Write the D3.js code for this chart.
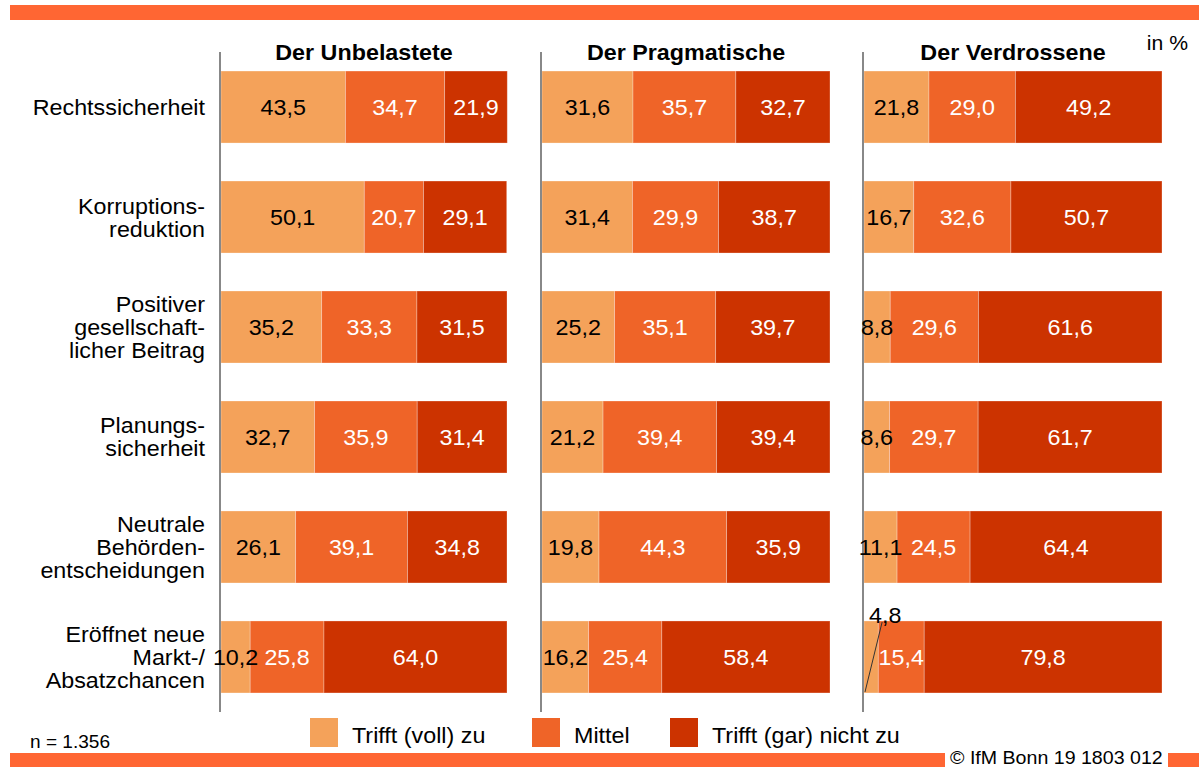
<!DOCTYPE html>
<html>
<head>
<meta charset="utf-8">
<script src="https://cdnjs.cloudflare.com/ajax/libs/d3/7.8.5/d3.min.js"></script>
<style>
	body{
	    margin:0;
	    background-color: white;
	}
	text{
	    font-family: "Liberation Sans", Arial, sans-serif;
	}
</style>
</head>
<body>
<svg id="chart" width="1199" height="767"></svg>
<script>
	// categories (one entry per row, split into lines as in the original)
	var categories = [
		["Rechtssicherheit"],
		["Korruptions-", "reduktion"],
		["Positiver", "gesellschaft-", "licher Beitrag"],
		["Planungs-", "sicherheit"],
		["Neutrale", "Behörden-", "entscheidungen"],
		["Eröffnet neue", "Markt-/", "Absatzchancen"]
	];
	var series = ["Trifft (voll) zu", "Mittel", "Trifft (gar) nicht zu"];
	var panelTitles = ["Der Unbelastete", "Der Pragmatische", "Der Verdrossene"];

	// values in %, per row: [voll zu, mittel, nicht zu]
	var unbelastete = [
		[43.5, 34.7, 21.9],
		[50.1, 20.7, 29.1],
		[35.2, 33.3, 31.5],
		[32.7, 35.9, 31.4],
		[26.1, 39.1, 34.8],
		[10.2, 25.8, 64.0]
	];
	var pragmatische = [
		[31.6, 35.7, 32.7],
		[31.4, 29.9, 38.7],
		[25.2, 35.1, 39.7],
		[21.2, 39.4, 39.4],
		[19.8, 44.3, 35.9],
		[16.2, 25.4, 58.4]
	];
	var verdrossene = [
		[21.8, 29.0, 49.2],
		[16.7, 32.6, 50.7],
		[8.8, 29.6, 61.6],
		[8.6, 29.7, 61.7],
		[11.1, 24.5, 64.4],
		[4.8, 15.4, 79.8]
	];
	var panelData = [unbelastete, pragmatische, verdrossene];

	var colors = ["#F4A25A", "#EF6428", "#CC3300"];
	var labelColors = ["#000", "#fff", "#fff"];

	// layout
	var panelX = [221, 542, 864];
	var panelW = [286, 288, 298];
	var TOP = 52, BOTTOM = 712;
	var STRETCH = 1.06; // the original text is a bit wider than Arial

	var locale = d3.formatLocale({decimal: ",", thousands: ".", grouping: [3], currency: ["", ""]});
	var fmt = locale.format(".1f");

	var svg = d3.select("#chart");

	// text helper: places a text at x,y, slightly widened
	function addText(parent, x, y, str, size, anchor){
		return parent.append("text")
			.attr("transform", "translate(" + x + "," + y + ") scale(" + STRETCH + ",1)")
			.attr("text-anchor", anchor || "start")
			.style("font-size", size + "px")
			.text(str);
	}

	// top and bottom bands
	svg.append("rect").attr("x", 10).attr("y", 5).attr("width", 1189).attr("height", 15).attr("fill", "#FF6633");
	svg.append("rect").attr("x", 10).attr("y", 753).attr("width", 935).attr("height", 14).attr("fill", "#FF6633");
	svg.append("rect").attr("x", 1168).attr("y", 753).attr("width", 31).attr("height", 14).attr("fill", "#FF6633");
	addText(svg, 950, 764, "© IfM Bonn 19 1803 012", 18.5);

	var yScale = d3.scaleBand()
		.domain(d3.range(categories.length))
		.range([71 - 19, 693 + 19])
		.paddingInner(38 / 110)
		.paddingOuter(0.173);

	// row labels
	var rowLabels = svg.append("g").attr("class", "row-labels");
	categories.forEach(function(lines, i){
		var cy = yScale(i) + yScale.bandwidth() / 2;
		lines.forEach(function(line, j){
			addText(rowLabels, 205, cy - (lines.length - 1) * 23 / 2 + 8 + j * 23, line, 22, "end");
		});
	});

	panelData.forEach(function(rows, p){
		var x = d3.scaleLinear().domain([0, 100]).range([panelX[p], panelX[p] + panelW[p]]);
		var g = svg.append("g").attr("class", "panel");
		var gBars = g.append("g"), gAxis = g.append("g"), gLabels = g.append("g");

		addText(g, x(50), 60, panelTitles[p], 22, "middle")
			.style("font-weight", "bold");

		var stacked = rows.map(function(r){
			var acc = 0;
			return r.map(function(v, k){
				var d = {k: k, v: v, x0: acc, x1: acc + v};
				acc += v;
				return d;
			});
		});

		stacked.forEach(function(segs, i){
			var y0 = yScale(i), bh = yScale.bandwidth(), cy = y0 + bh / 2;
			gBars.selectAll(null)
				.data(segs)
				.enter()
				.append("rect")
				.attr("x", function(d){ return x(d.x0); })
				.attr("y", y0)
				.attr("width", function(d){ return x(d.x1) - x(d.x0); })
				.attr("height", bh)
				.attr("fill", function(d){ return colors[d.k]; })
				.attr("stroke", "rgba(255,255,255,0.35)")
				.attr("stroke-width", 0.8);

			segs.forEach(function(d){
				var mid = (x(d.x0) + x(d.x1)) / 2;
				if(d.v < 6){
					// too small: label above with a leader line
					gLabels.append("line")
						.attr("x1", x(d.x0) + 1).attr("y1", y0 + bh - 1)
						.attr("x2", mid + 11).attr("y2", y0 + 1)
						.attr("stroke", "#333").attr("stroke-width", 1);
					addText(gLabels, mid + 14, y0 + 2, fmt(d.v), 22, "middle")
						.attr("fill", "#000");
				}else{
					addText(gLabels, mid, cy + 8, fmt(d.v), 22, "middle")
						.attr("fill", labelColors[d.k]);
				}
			});
		});

		// vertical axis line
		gAxis.append("line")
			.attr("x1", panelX[p] - 1).attr("x2", panelX[p] - 1)
			.attr("y1", TOP).attr("y2", BOTTOM)
			.attr("stroke", "#888").attr("stroke-width", 2);
	});

	addText(svg, 1188, 50, "in %", 20, "end");

	// legend
	var legendX = [310, 532, 670];
	var legend = svg.append("g").attr("class", "legend");
	series.forEach(function(s, i){
		legend.append("rect")
			.attr("x", legendX[i]).attr("y", 718)
			.attr("width", 28).attr("height", 29)
			.attr("fill", colors[i]);
		addText(legend, legendX[i] + 42, 743, s, 22);
	});

	addText(svg, 30, 748, "n = 1.356", 18);
</script>
</body>
</html>
